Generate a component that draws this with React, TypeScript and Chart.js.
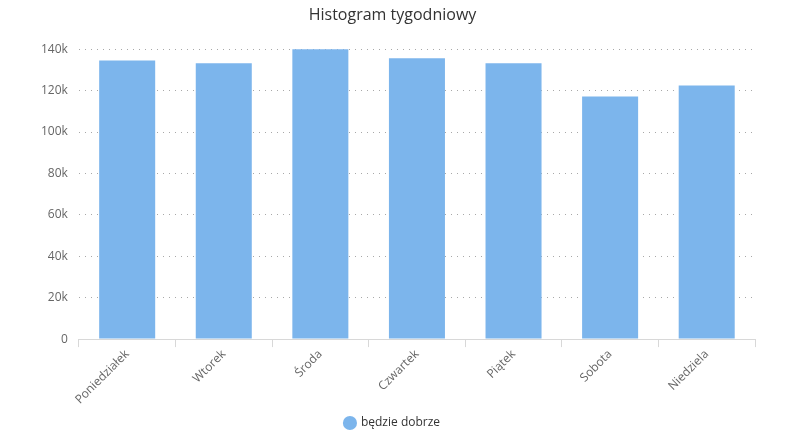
import React, { useEffect, useRef } from "react";
import { Chart, registerables } from "chart.js";

Chart.register(...registerables);

const categories = ["Poniedziałek", "Wtorek", "Środa", "Czwartek", "Piątek", "Sobota", "Niedziela"];
const values = [134600, 133200, 140500, 135600, 133200, 117200, 122500];
const seriesName = "będzie dobrze";
const titleText = "Histogram tygodniowy";

export default function App() {
  const ref = useRef<HTMLCanvasElement>(null);
  useEffect(() => {
    document.body.style.margin = "0";
    const ctx = ref.current!.getContext("2d")!;
    const font = "'Open Sans', 'DejaVu Sans', sans-serif";
    const chart = new Chart(ctx, {
      type: "bar",
      data: {
        labels: categories,
        datasets: [
          {
            label: seriesName,
            data: values,
            backgroundColor: "#7cb5ec",
            borderWidth: 0,
            barPercentage: 0.58,
            categoryPercentage: 1,
          },
        ],
      },
      options: {
        animation: false,
        responsive: false,
        maintainAspectRatio: false,
        layout: { padding: { left: 30, right: 45, top: 2, bottom: 1 } },
        plugins: {
          title: {
            display: true,
            text: titleText,
            color: "#333333",
            font: { family: font, size: 16, weight: "normal" },
            padding: { top: 4, bottom: 24 },
          },
          legend: {
            position: "bottom",
            labels: {
              usePointStyle: true,
              pointStyle: "circle",
              boxWidth: 10,
              boxHeight: 10,
              color: "#333333",
              font: { family: font, size: 12 },
              padding: 10,
            },
          },
          tooltip: { enabled: false },
        },
        scales: {
          y: {
            min: 0,
            max: 140000,
            ticks: {
              stepSize: 20000,
              color: "#666666",
              font: { family: font, size: 12 },
              padding: 11,
              callback: (v: any) => (v === 0 ? "0" : v / 1000 + "k"),
            },
            grid: {
              color: "#a8a8a8",
              drawTicks: false,
            },
            border: { display: false, dash: [1, 5] },
          },
          x: {
            ticks: {
              color: "#666666",
              font: { family: font, size: 12 },
              maxRotation: 45,
              minRotation: 45,
              padding: 0,
            },
            grid: {
              drawOnChartArea: false,
              drawTicks: true,
              tickLength: 8,
              color: "#d8d8d8",
            },
            border: { display: true, color: "#d8d8d8" },
          },
        },
      },
    });
    return () => chart.destroy();
  }, []);
  return (
    <div style={{ width: 800, height: 440, position: "relative", background: "#fff" }}>
      <canvas ref={ref} width={800} height={440} />
    </div>
  );
}
